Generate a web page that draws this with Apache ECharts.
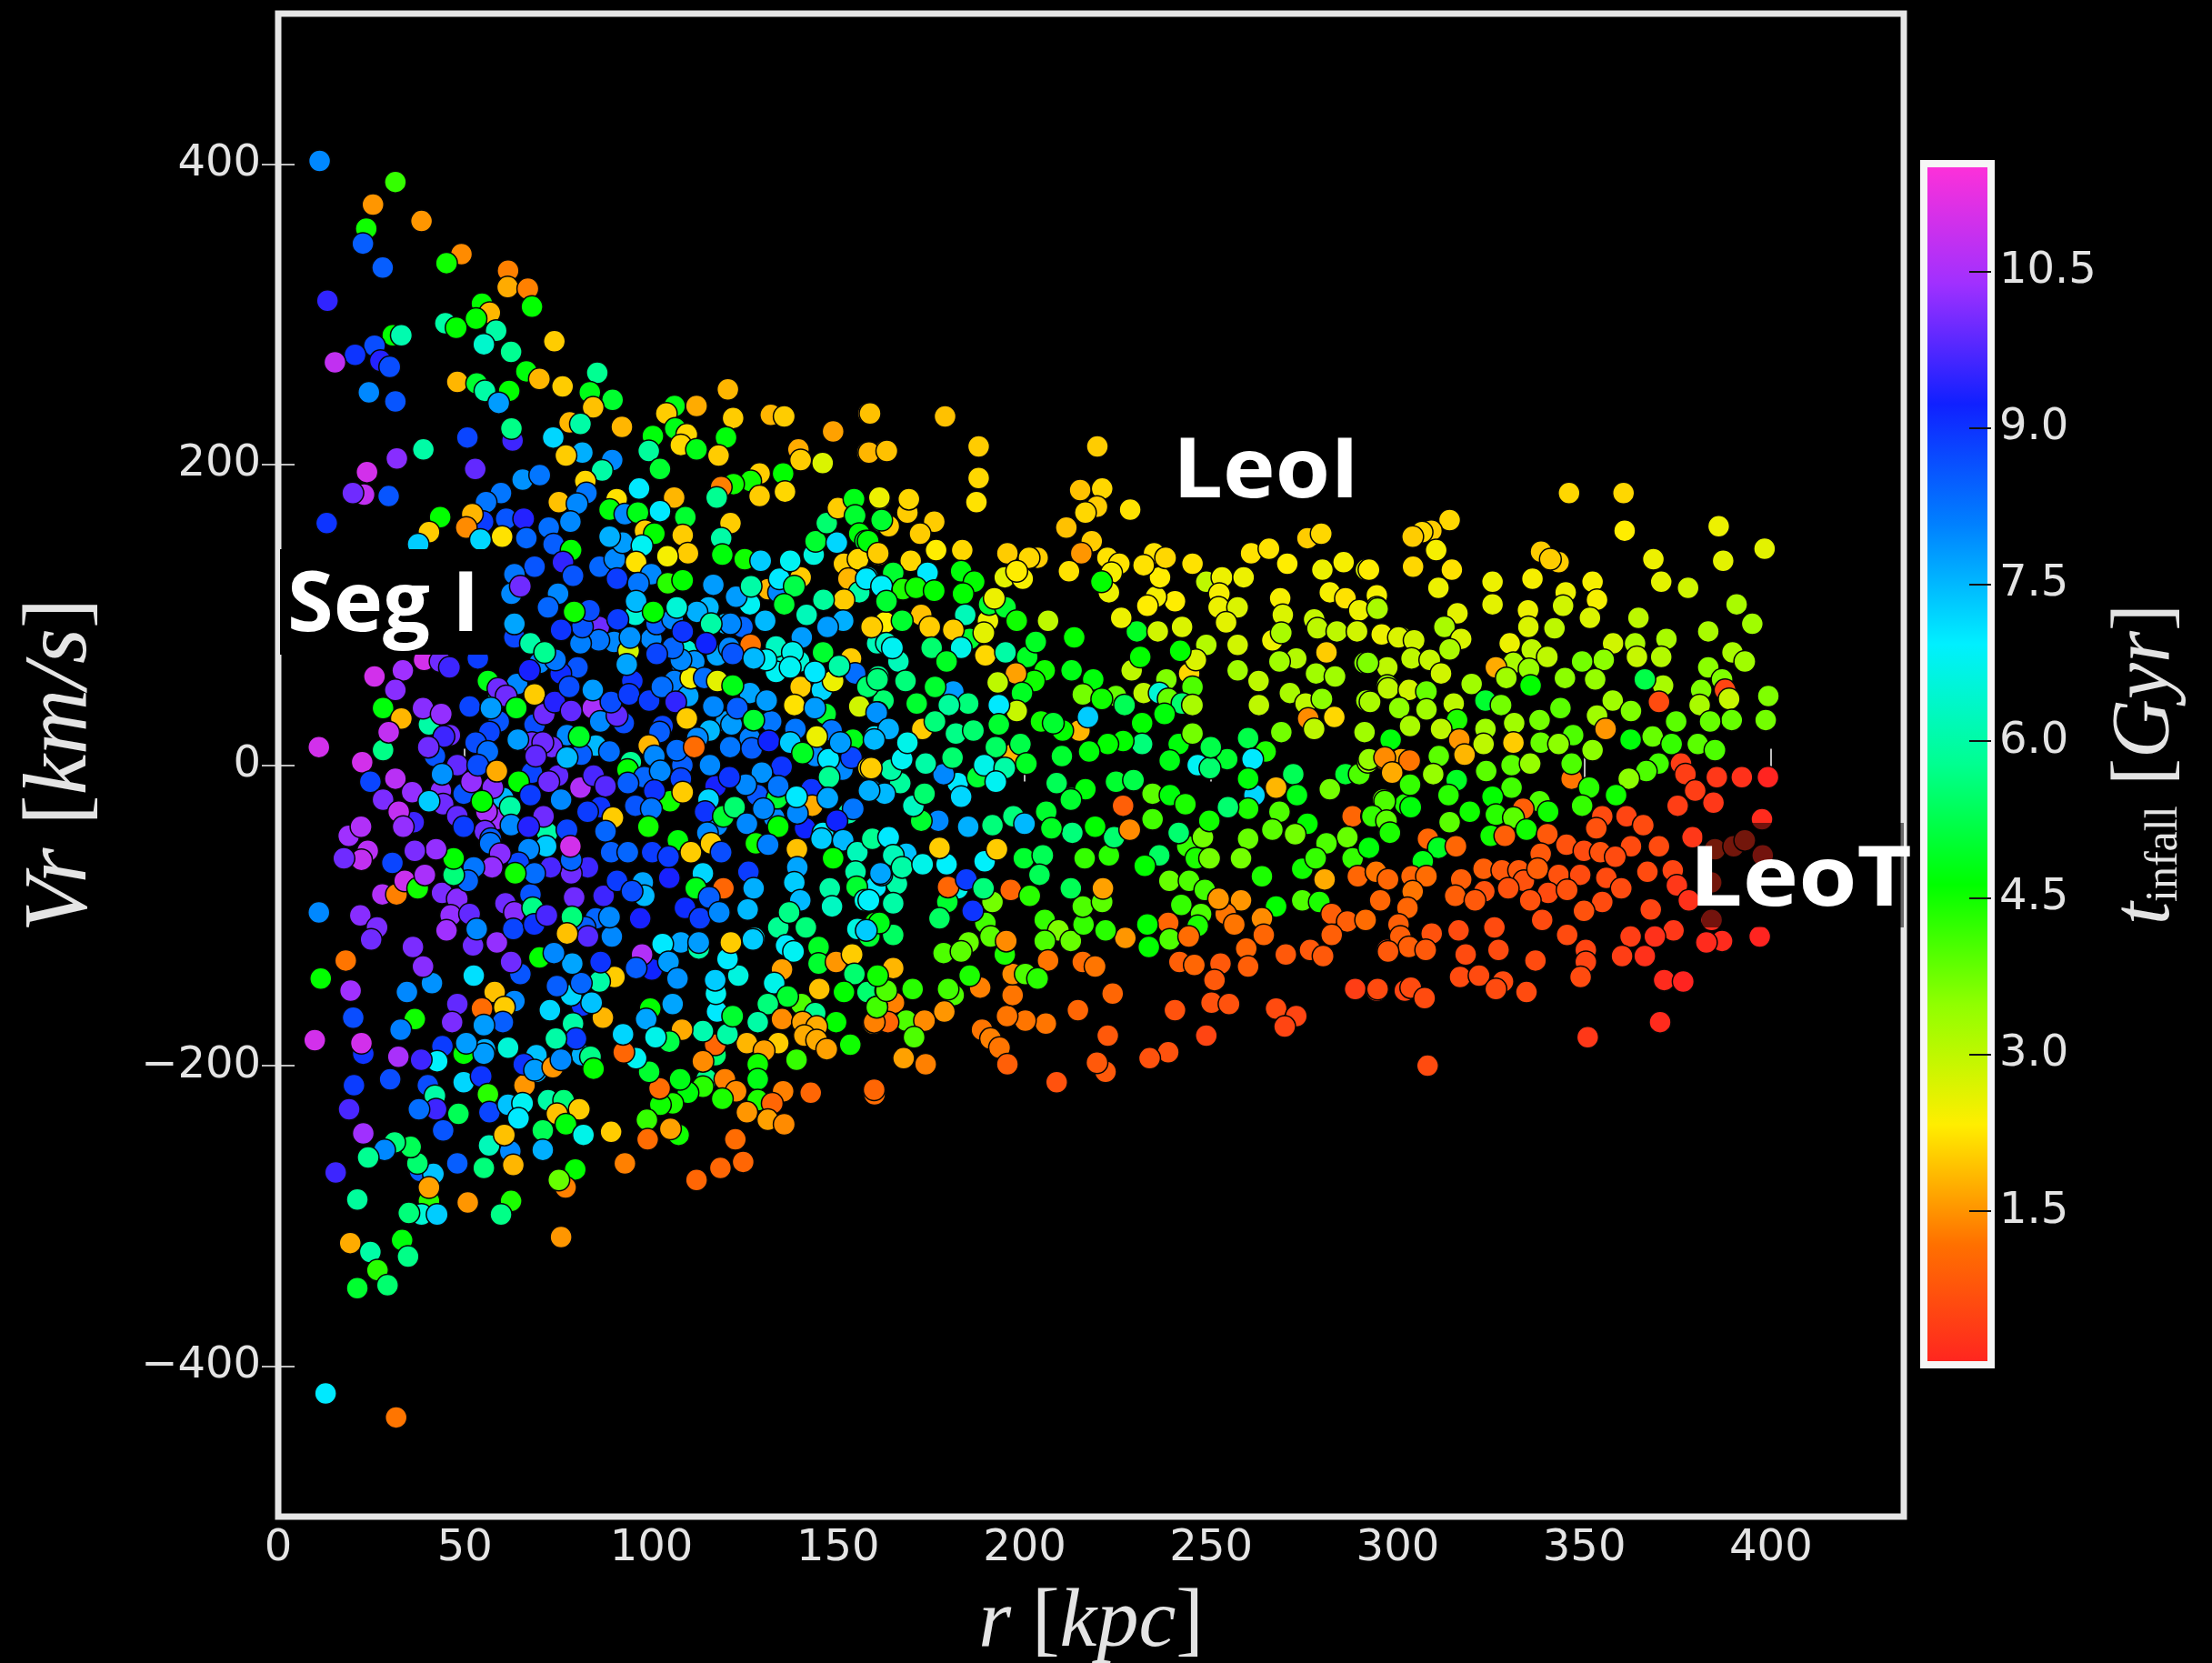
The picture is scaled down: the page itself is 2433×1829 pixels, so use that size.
<!DOCTYPE html>
<html><head><meta charset="utf-8">
<style>html,body{margin:0;padding:0;background:#000}#c{width:2433px;height:1829px}</style>
<script src="https://cdn.jsdelivr.net/npm/echarts@6/dist/echarts.min.js"></script>
</head><body><div id="c"></div>
<script>
// each point: [r kpc, Vr km/s, t_infall Gyr]
const partlyHidden=[[85.9,92,10],[95.7,100,6.5],[90,82,8],[100,84,8],[93.9,76,2.8],[109.5,76,6.5],[117.6,73,7.7],[120,94,7.5],[120.9,78,8],[108.3,66,8.1],[111.5,69,7.9],[106.2,56,8.1],[109.9,46,7.7],[94.9,56,9],[80.2,65,8.6],[75.7,61,9.1],[84.3,38,10.5],[86.3,29,8],[92.6,28,8.7],[90.8,33,9.9],[68.7,27,8.7],[71.3,34,10],[103,26,8.8],[102.2,22,8.5],[120,29,7.8],[115.6,23,7.5],[112.3,18,8],[108.3,0,8.5],[99.3,13,1.8],[85.1,13,7.5],[77.4,20,8],[81.2,7,8.5],[73.3,12,10],[68,15,10],[70.9,15,10],[59.1,29,8.6],[56.6,22,8.8],[59.1,45,6.4],[64,54,8],[70,68,8],[74.3,70,8.2],[40.4,27,6],[46,20,10],[44.4,19,9.6],[42,6,8.6],[48,0,9.9],[68,-5,8.8],[75,-7,9.9],[81,-15,10.6],[94.5,2,5.8],[93.6,-3,4.6],[98.1,-8,8.4],[105,-24,4.5],[95.7,-27,8.6],[107.9,-9,8.8],[117.2,-14,9.3],[117.6,-40,8],[60.3,-22,7.5],[86.3,-28,9],[58.3,-36,10.4],[72.1,-45,6],[55.8,-31,10.5],[36.3,-38,9.6],[43.6,-17,10.2],[49.7,-19,8.6],[55.4,-44,10],[57,-49,8.5],[126.4,107,6.8],[131.3,117,1.8],[134.1,115,8],[162.6,95,2.3],[185.3,84,5],[190.2,96,2.5],[124.4,92,8.4],[134.9,69,6.5],[139.6,69,6.5],[166.2,69,6.2],[160.5,81,6.2],[180.9,49,7.8],[162.2,43,5.5],[146.7,34,5],[126.4,48,7.7],[132.1,29,8.2],[121.5,27,7.8],[126.4,18,8.1],[154,17,4.8],[148.3,23,8.2],[143.9,6,8],[138.6,24,8.2],[151.2,-3,8],[153.6,5,8.8],[147.5,4,7],[182.1,-12,7],[187.4,-8,5],[196.7,7,1.8],[212.6,-22,5],[128.4,-20,8.6],[134.9,-1,9],[132.9,-35,8],[141.2,-42,9.2],[152.8,-32,6],[142.9,-16,9],[143.1,-27,1.7],[133.7,-22,5],[146,-45,7],[57,-68,10.7],[83,-68,9.6],[97.7,-78,7.7],[98.1,-87,7.5],[85.1,-102,8.4],[82.2,-108,8.5],[107.9,-118,7.7],[112.7,-122,6],[100.1,-136,9.2],[81.4,-160,9],[55.4,-189,7.6],[69.2,-193,7.4],[69.2,-204,7.6],[81.4,-193,7.6],[117.2,-193,5.5],[114.8,-209,5.7],[119.7,-209,1.3],[127.6,-115,7],[168.3,-59,7.4],[160.1,-81,7],[165.8,-79,6],[191.4,-91,3.7],[182.1,-82,6.7],[185,-118,3.8],[181,-153,4],[165,-158,1.3],[168.3,-170,4],[140.2,-159,4],[143.9,-165,5.8]];
const upperInner=[[11.1,402,8],[31.4,388,4.2],[25.4,373,1.5],[23.6,357,4.5],[22.7,347,8.5],[38.4,362,1.5],[49.1,340,1.4],[45.1,334,4.5],[28,331,8.5],[61.6,329,1.3],[61.5,318,1.7],[66.9,317,1.3],[68,305,4.6],[54.6,307,4.6],[56.7,301,1.8],[53,297,4.6],[13.2,309,9.5],[44.8,294,6],[47.7,291,4.6],[30.7,286,4.6],[33,286,6.1],[58.4,289,6],[55.1,280,6.4],[62.4,275,5.8],[74,282,2],[25.8,279,8.7],[20.6,273,9],[27.4,269,9.4],[29.9,265,8.7],[15.2,268,10.8],[48,255,1.8],[53.2,254,5],[55.4,249,6],[61.9,249,4.6],[59.1,241,7.8],[66.5,262,4.7],[70,257,1.8],[76.2,252,2],[85.5,261,5.8],[83.5,248,4.8],[89.6,243,5],[84.4,238,1.9],[24.3,248,8],[31.4,242,8.6],[92.1,225,1.8],[62.8,216,9.6],[62.5,224,5.7],[50.7,218,8.8],[73.7,218,7.2],[78.1,228,1.8],[81,227,6],[81.5,208,7.6],[77.1,206,2],[89.5,203,8],[86.8,196,6],[38.9,210,6],[31.8,204,10.2],[23.8,195,11],[52.8,197,9.9],[23,180,10.8],[20,181,10],[29.6,179,8.6],[13,161,9],
[106.2,239,4.8],[112.1,239,1.7],[120.5,250,1.8],[121.9,231,2],[104,234,2],[106.4,224,4.8],[132,233,1.8],[135.6,232,2],[148.7,222,1.6],[158.2,234,1.7],[109.5,220,2.1],[107.9,213,2.1],[112.1,210,4.8],[120,218,4.7],[118,206,2],[100.4,219,4.7],[99.3,209,5.9],[102.3,197,5],[139.4,210,1.7],[145.9,201,2.7],[140,203,2],[157.9,208,1.8],[162.6,209,2],[135.3,194,4.6],[135.8,182,2.1],[129,194,2],[126.6,189,4.5],[122,187,4.5],[129,179,2],[118.7,185,1.3],[117.5,178,5.8],[96.7,184,7],[106.1,178,1.8],[102.3,169,7],[90.7,177,2.2],[88.8,170,4.7],[92.9,167,8],[96.4,168,4.8],[109.1,165,5],[108.4,153,2],[121.2,161,2],[98.3,156,2],[100.8,154,4.6],[118.7,151,6],[109.8,141,2],[104.3,139,2.4],[119,140,4.7],[125,137,4.5],[129.3,136,7.3],
[65.5,190,7.9],[70.1,193,8.2],[82.3,189,2.1],[82.6,181,8.2],[75.2,175,1.9],[80.1,174,8],[59.7,181,8.2],[55.7,175,8.2],[61.1,164,8.6],[54.9,162,8.9],[65.8,164,9.4],[52,167,1.8],[50.4,158,1.4],[43.4,165,4.6],[40.4,155,2],[37.5,147,7.3],[60,152,2.2],[54.2,150,7.2],[66.5,151,8.4],[72.5,158,8.3],[78.3,162,8],[73.8,147,8.5],[78.5,143,4.6],[76.3,135,9.5],[68.7,132,8.6],[63.3,127,8.2],[79,126,8.6],[86.1,132,8.4],[90.2,137,8],[92.3,148,7.8],[88.8,152,7.6],[97.5,146,6.8],[95.9,135,2.2],[90.8,124,8.9],[100,127,8],[96.5,121,8.2],[104.4,121,4.3],[108.4,123,4.6],[116.6,120,7.8],[122.7,112,7.8],[126.7,119,6],[134.3,124,7],[140,125,2],[138.3,119,5.2],[137.2,136,6.8],[143.5,140,6.6],[144,149,5],[149.7,148,7.2],[147,161,5.5],[150,171,2],[154.3,177,4.8],[154.6,166,5],[161.2,177,2.3],[161.7,162,5],[155.7,154,4.7],[157.4,149,5],[151.6,134,2],[155.4,137,2.1],[160.9,140,1.9],[152.8,124,1.8],[157.9,125,7],[162,119,7],[155.7,115,6],[151.6,110,2],[146.1,110,5.9],[141.6,100,6.2],[135.6,107,5],[130.5,96,7.5],[121.2,94,8],[115.3,105,7.5],[112.2,102,7.6],[116,94,6],[151.4,96,7.6],[147.2,92,7.8],[158.8,92,2],[163,81,6.3],[153.5,71,2],[146,75,5],[140.3,85,7.8],[133.4,79,6.3],[126.6,80,1.2],[121.8,74,8.6],[114.7,81,9.2],[137.8,75,6.7],
[25.8,59,11],[33.4,63,10.4],[39.1,70,11],[43.4,69,10],[45.9,65,9.6],[53.5,71,8.9],[31.4,50,10.2],[28.1,38,4.7],[33,31,1.8],[38.8,38,10.2],[43.7,34,10.3],[51.3,39,8.8],[56.2,56,4.8],[58.9,51,10],[61.1,46,10],[57,38,7.8],[63.8,38,4.8],[67.3,63,9.3],[68.7,47,2],[74.1,42,9.4],[78.5,36,9.9],[78,52,8.7],[84.3,50,7.8],[89.2,42,8.7],[94,47,8.9],[99.4,43,8.9],[102.8,52,8.3],[106.5,42,9.5],[110.6,58,2.4],[114.2,58,8.3],[116.6,39,8],[123,38,8.5],[117.7,56,2.6],[121.8,53,4.8],[109.5,31,2],[127.4,30,5],[130.9,43,7.8],[140,52,2],[145.7,50,7.2],[138.3,40,2.2],[143.8,38,7.8],[148.7,56,2.5],[154.6,61,8.3],[160.8,59,5.8],[157.9,52,5.5],[155.7,39,2.8],[160.6,35,7.8],[133.4,62,6.8],[143.8,62,7],[150.3,66,6],[130.7,70,6.8],[137.2,65,6.8],[127.4,71,7.5],[107.9,70,8],[105.7,78,8.4],[101.4,74,8.8],[94.3,85,7.9],[93.4,67,7.7],[85.9,83,8.2],[81,81,8.1],[81.5,92,8.6],[75.8,90,9],[63.3,85,8.8],[63.3,94,7.7],[67.6,81,6],[71.4,75,5.8],[75,114,8],[72.3,105,8.4],[62.5,114,8],[64.9,119,10],[83.4,103,8.7],[79.3,102,4.5],[91,97,8.9],[101.4,94,8.5],[105.7,97,8],[108.4,89,9],[95.9,109,7.5],[100.5,102,4.6],[106.8,105,6.5]];
const lowerInner=[[10.9,12,11],[28.1,10,5.7],[22.5,2,11],[29.6,22,10.8],[40.2,12,10],[24.7,-11,8.8],[31.4,-9,10.7],[35.9,-18,10.3],[28.1,-23,10.1],[43.9,-6,7.9],[32.3,-31,10.8],[33.5,-41,10.3],[44.2,-26,10],[40.4,-24,7.3],[51.8,-11,10.3],[57.5,-15,10.2],[64.4,-11,4.6],[54.6,-24,4.6],[48,-34,9.9],[49.7,-41,8.9],[69,6,9.9],[64.2,17,7.8],[80.7,19,4.9],[77.4,5,7.5],[88.8,9,8.3],[52.9,15,8.7],[56.2,9,8.3],[53.5,0,8.7],[58.6,-4,1.7],[72.5,-11,10],[75.8,-23,8],[62.2,-28,6],[67.6,-20,8.9],[84.5,-7,9.7],[82.9,-31,8.9],[87.7,-14,9.8],[71.1,-34,10],[89.7,-35,2],[62.4,-40,8],[67.1,-41,9.4],[77.4,-43,8.8],[87.7,-44,8.4],[93.7,-12,8.5],[100.8,6,8],[106.8,10,8.3],[111.5,12,1.1],[102.4,-4,8],[115.7,0,8],[121.1,12,8.2],[126.9,11,8.5],[131.5,16,9.2],[137.2,15,7.3],[144.3,19,2.5],[150.6,15,7.8],[158.2,-2,2.2],[159.8,19,7],[140.5,8,4.9],[147.6,-8,5.8],[129.6,-5,7.9],[125.3,-13,8],[134,-14,8.2],[120.9,-8,9],[108.4,-18,2],[100.8,-17,9],[100,-29,8.2],[115.3,-23,7.2],[114.4,-31,9],[119.3,-34,5],[122.3,-28,5.5],[130,-29,8],[139.1,-32,8],[138.9,-21,7],[147.3,-22,7.7],[154.1,-29,8.2],[149.7,-37,9.2],[159,-17,7.6],[134,-41,4.6],[125.6,-39,8],[115,-45,8],[99.2,-41,4.5],[107.1,-50,4.7],[110.6,-58,2],[116,-52,2],[118.7,-58,8.7],[128,-52,4.5],[131.3,-53,8.1],[139,-56,1.9],[145.6,-49,7.3],[151.4,-50,7.5],[159.2,-49,6],[155.2,-58,6.2],[148.7,-62,4.6],[154.7,-71,6],[161.7,-73,7.7],[139.1,-68,7.7],[138.3,-78,7.3],[147.8,-82,6],[155,-81,5],[157.2,-90,6.6],[148.4,-94,6.3],[139.9,-90,7.5],[126,-71,8.9],[127.4,-82,7.6],[113.8,-72,7.2],[119.3,-82,1],[111.9,-82,4.8],[115.5,-88,8.5],[104.8,-75,9.3],[109,-95,9.1],[113,-102,8.9],[118.2,-98,8],[125.8,-96,7.5],[134,-108,5.8],[136.9,-98,5.7],[141.4,-108,5.6],[144.8,-121,4.9],[144.8,-132,5],[136.1,-120,7],[138.1,-124,6.8],[155.2,-109,6.6],[160,-105,4.5],[158.4,-114,5],[149.5,-131,1.5],[153.8,-126,2],[154.4,-139,5.5],[161.2,-140,4.9],[151.6,-151,4.6],[157.9,-151,5.5],[162.8,-150,4.5],[160.4,-161,4.7],[159.5,-172,1.6],[153.3,-186,4.5],[149.5,-171,4.6],[145,-149,1.9],[135,-136,1.6],[132.9,-145,6.7],[136.5,-154,5],[131.2,-159,5.6],[128.5,-171,6],[135,-169,1.4],[140.5,-171,1.6],[144.3,-174,1.7],[141,-180,1.7],[144.3,-183,1.7],[147,-189,1.6],[138.9,-196,4.2],[134,-185,2],[125.6,-185,1.8],[130.2,-190,1.6],[128.5,-199,4.5],[128.5,-209,4.8],[128.5,-223,4.4],[122.7,-217,1.4],[119,-222,4.4],[135.3,-217,1.3],[142.7,-218,1],[159.8,-219,1.1],[132.4,-225,1],[125.6,-231,1.5],[131.2,-236,1.6],[135.6,-239,1.4],
[117.1,-186,1],[113.8,-197,1.4],[113.8,-214,4.3],[109.8,-218,4.7],[107.7,-209,4.8],[105.7,-225,4.4],[102.4,-226,4.5],[102.2,-215,1.1],[99.4,-204,5],[95.9,-195,6.8],[92.6,-191,1],[113.8,-177,6.1],[120.4,-179,6],[117.6,-164,7],[121.8,-167,5],[117.3,-152,6.8],[117.1,-143,7.3],[123.3,-140,6.6],[120.4,-129,7],[127.2,-116,7.3],[121.3,-118,2],[112.7,-118,7.8],[103,-119,7],[104.6,-131,7.8],[97.5,-126,10.6],[95.9,-135,8.5],[107,-142,7.9],[105.7,-159,7.7],[108.2,-176,1.7],[99.7,-162,4.6],[98.6,-169,7.7],[104.8,-184,5.2],[101.1,-181,6.7],[92.4,-179,7.2],[87,-168,1.8],[84,-158,7.4],[78.5,-153,7.2],[90.1,-141,2],[86.1,-144,6],[81.2,-145,8.4],[74.7,-147,8.5],[86.4,-131,9],[78.8,-132,7.7],[70,-128,4.6],[73.9,-125,8],[64.9,-139,8.6],[62.4,-131,10],[52.4,-140,7.1],[63.3,-157,8],[58,-151,1.9],[60.6,-161,2],[54.6,-162,1.1],[48,-159,9.9],[46.6,-171,10.1],[60.2,-171,8.5],[55.1,-173,7.8],[72.8,-163,7.2],[79,-172,6],[79.8,-182,8.9],[74.4,-182,6],[61.6,-188,6.5],[44,-187,8.9],[49.7,-192,4.6],[55.1,-192,7.8],[50.4,-185,7.8],[42.6,-197,6.9],[38.3,-196,9.6],[32.2,-194,10.5],[22.8,-192,9],[22.3,-185,11],[9.8,-183,11],[36.6,-169,4.5],[32.8,-176,8.1],[20.1,-168,8.7],[19.4,-150,10.4],[18.1,-130,1.2],[11.4,-142,4.6],[34.5,-151,8],[41.2,-145,7.9],[38.8,-134,10.2],[36.1,-121,10.1],[22,-100,10.2],[10.9,-98,8],[26.5,-108,10.1],[24.9,-116,10],[27.9,-86,10.6],[31.7,-86,1.3],[33.9,-77,10.9],[37.4,-82,4.5],[39.3,-73,10.5],[43.9,-85,10.1],[48,-89,10.2],[46.2,-100,10.3],[45.1,-110,10.4],[51.3,-99,9.9],[52.2,-120,10],[53.2,-109,8],[58.6,-118,10.3],[60.9,-92,10],[63.3,-98,10.2],[63,-109,8.8],[67.6,-86,8.6],[68.2,-95,5.7],[68.6,-106,9],[72,-100,9.7],[79.3,-88,10],[78.7,-101,5.6],[83,-114,9.8],[77.4,-112,1.9],[89.4,-114,8],[88.8,-101,8],[87.2,-87,9.6],[90.8,-77,8.9],[94.8,-84,8.7],[97,-102,9.3],[78.5,-72,10],[73,-68,9.7],[78.5,-63,8.4],[78.3,-54,11],[71.8,-54,7.3],[67.1,-56,8],[64.4,-65,8.8],[68.7,-72,8.3],[63.5,-72,4.5],[56.8,-52,8.2],[59.5,-59,10.2],[57.3,-68,10.3],[52.4,-68,8.2],[50.8,-77,8.4],[47,-73,5.6],[47,-62,4.6],[42.3,-56,10.3],[36.6,-57,10.1],[30.6,-65,8.8],[24,-57,10.7],[22.3,-63,10.8],[18.9,-47,10.4],[22.2,-41,10.6],[17.6,-62,10],[89.2,-58,8.5],[93.7,-58,8.4],[100.2,-58,8.9],[104.6,-61,8.9],
[40.1,-213,8.7],[42,-220,6],[42.3,-229,9.6],[37.7,-229,8.3],[49.7,-211,7.2],[54.4,-207,9],[56.2,-219,4.3],[56.6,-231,8.8],[48.3,-232,5.3],[44.2,-243,8.6],[66,-213,1.5],[65.8,-199,9],[68.7,-203,7.8],[73.6,-201,1.5],[75.8,-196,8],[83.7,-194,5.7],[84.5,-202,4.6],[61.6,-226,7.4],[65.5,-225,6.8],[64.4,-235,7],[72.3,-223,6],[76.5,-223,5.6],[74.7,-232,1.9],[80.7,-229,2],[77.1,-239,4.7],[70.9,-243,5.3],[81.8,-246,6.7],[89.2,-244,2],[98.8,-236,4.2],[107.3,-246,4.5],[105.1,-242,1.6],[99,-249,1.1],[122.5,-249,1.1],[124.6,-264,1],[118.5,-268,1],[112.1,-276,1],[92.9,-265,1.3],[79.6,-269,4.6],[77,-281,1.3],[75.2,-276,3.8],[70.9,-256,7.6],[62.4,-290,4.4],[59.7,-299,5.7],[50.8,-291,1.5],[62.2,-257,8],[63,-266,1.8],[55.1,-268,5.6],[56.5,-253,6.2],[60.6,-246,1.9],[48,-265,8.5],[38,-270,8.5],[41.6,-272,7.4],[37.3,-265,5.5],[35.5,-254,5.3],[31.2,-251,5.6],[28.5,-256,8],[24.1,-261,5.8],[22.8,-245,10.4],[19,-229,9.7],[20.3,-213,8.9],[30,-209,8.7],[15.4,-271,9.6],[21.2,-289,5.9],[40.4,-290,4.3],[40.4,-281,1.6],[38.4,-299,6.5],[42.6,-299,7.3],[35,-298,5.6],[19.3,-318,1.7],[24.7,-324,6],[33.2,-316,4.7],[34.8,-327,5.7],[26.6,-336,4.3],[29.3,-346,5.5],[21.2,-348,5],[75.8,-314,1.5],[12.7,-418,7],[31.6,-434,1.2]];
const middleZone=[[178.7,232,1.9],[158.6,234,1.9],[158.3,208,1.8],[163.1,209,1.9],[187.7,212,2],[187.7,191,2.1],[187.1,175,2.2],[219.5,212,2],[214.9,183,1.9],[220.8,184,2.1],[219.4,172,2],[216.3,168,2.1],[228.3,170,2.2],[211.2,158,1.9],[218,149,2],[215.2,141,1.5],[211.9,129,2.2],[222.2,138,2.2],[225.4,134,2.2],[223.3,128,2.4],[222.6,115,2.5],[220.6,122,4.6],[195.4,141,2],[203.5,138,2],[201.2,138,2.1],[194.7,125,2.6],[199.5,124,2.4],[197.9,129,2.3],[183.3,143,2.1],[176.3,143,2.3],[175.8,162,2],[168.6,168,2],[172,154,2],[169,177,2.1],[161.1,178,2.5],[163.6,159,2],[161.7,163,5],[158.1,149,4.7],[160.8,141,2],[169.5,136,2.1],[174,128,7],[164.8,128,5],[157.6,124,7],[161.7,119,6.9],[167.4,117,4.4],[163,109,5],[170.9,118,4.5],[175.8,116,4.6],[183,129,4.7],[186.5,122,4.6],[183.5,114,4.6],[172.3,100,1.9],[174.6,92,2],[167.2,96,5],[159,92,2],[184.1,100,6.2],[190.5,107,5],[194.9,105,5],[197.9,96,4.5],[206.3,96,3],[191.9,111,2.5],[189.1,88,2.6],[180.9,90,2],[183,78,6.7],[164.6,78,6.8],[175.1,78,5.5],[179.1,69,4.9],[189.5,73,2.1],[194.9,75,6],[200.7,72,4.9],[203,82,4.9],[205.4,63,4.5],[202.6,56,4.5],[197.7,61,1.6],[192.8,55,3],[199.3,48,4.9],[197.9,36,2.9],[193.1,40,7],[184.9,41,5.6],[179.7,40,5.9],[176,52,5],[168.1,56,5.6],[160.6,57,5.6],[171.1,41,5],[160.4,35,7.9],[163.6,24,7.6],[172.6,24,2],[176,29,5.6],[181.6,21,5.7],[186.3,23,5.5],[193.1,27,5],[192.3,12,5.4],[198.9,14,5.2],[200.5,1,4.9],[210,6,5],[213.3,85,4.6],[212.6,63,4.8],[218.4,57,4.7],[215.6,47,3.7],[224.5,46,3.8],[220.7,44,4.5],[226.8,40,5.3],[238,57,3.6],[231.9,48,3],[236.1,48,6.5],[238.5,44,3.8],[244.1,61,2.1],[245,52,4],[242.2,41,5.5],[245,40,3.2],[237.5,34,4.7],[257.1,63,3.3],[262.7,56,3],[262.8,40,3],[257.1,80,2.8],[248.7,80,3.1],[245.9,70,2.7],[228.7,63,3],[231,72,4.6],[230.1,89,4.9],[235.7,89,2.8],[242.2,92,2.7],[241.7,76,4.6],[225.9,98,2.5],[240.3,109,2.3],[235.2,112,2.4],[232.9,106,2.3],[236.3,125,2.3],[234.7,141,2.2],[237.8,138,2.1],[231.9,133,2.2],[245,134,2.2],[248.7,122,3],[252.9,125,2.5],[258.7,125,2.5],[252.2,114,2.4],[252,105,2.5],[257.1,105,2.7],[254,95,2.6],[260.7,141,2.2],[265.5,144,2.2],[270.4,134,2.3],[275.8,151,2],[279.5,154,2.1],[285.5,135,2.4],[279.8,130,2.5],[291.5,130,2.7],[281.8,115,2.4],[286,111,2.2],[294.4,113,2.4],[294.4,105,2.9],[289.7,103,2.5],[268.5,111,2.4],[269.2,100,2.7],[277.6,97,2.9],[278.5,91,3],[283.7,89,3],[289.1,89,2.8],[295.8,87,3],[300.9,85,3],[266.4,83,2.5],[268.8,88,3.2],[272.8,71,3.1],[268.3,69,3.3],[280.9,75,2],[278.1,61,3.3],[283.2,59,3.3],[291.1,68,3.6],[297.2,65,3],[271.1,48,3.2],[275.3,41,3],[279.7,44,3.5],[291.6,43,3.4],[297.2,53,3.4],[300.5,38,3.5],[276,31,1.4],[283,32,2.1],[277.6,24,3],[291.1,22,3.3],[268.8,22,3.7],[259.9,18,5.2],[264.6,9,4.4],[261.1,4,7],[254.3,4,5],[246.4,0,6.8],[249.7,-2,5.5],[249.9,12,5.2],[241.3,14,4.7],[238.9,3,4.8],[245,21,3.7],[231.5,28,4.6],[231.5,14,5.6],[226.4,16,4.6],[222.3,14,4.6],[217.3,9,4.7],[214.7,23,1.8],[210.2,23,4.6],[204.4,29,4.5],[207.7,28,5],[217,32,7.3],[286,-6,5],[289.7,-6,4],[292,2,3.4],[296.3,4,1.5],[300.9,4,1.7],[298.6,-5,1.9],[281.8,-16,3.7],[272,-6,5.3],[267.4,-15,1.8],[273,-20,4.8],[261.6,-20,7.2],[259.9,-9,4.7],[259.9,-29,4.4],[254.5,-28,5.5],[268.3,-31,4],[275.8,-39,4.6],[287.9,-34,1],[293,-34,4],[296.1,-23,3.8],[302,-26,4.4],[297.7,-45,4],[266.4,-43,3.9],[272.5,-46,3.7],[259.9,-49,3.8],[286.5,-48,3.8],[280.9,-52,4],[258,-62,3.7],[287.9,-62,4.2],[274.4,-69,4.5],[278,-62,4.2],[263.6,-74,4.4],[280.4,-76,1.7],[289.3,-74,1],[294.2,-71,1.2],[274.4,-90,4],[267.4,-94,4.6],[279,-91,4.4],[258,-90,1.5],[253.9,-99,1.2],[256.2,-106,1.2],[263.6,-102,1.4],[264.1,-113,1],[259.4,-122,1],[259.9,-134,0.9],[270,-126,0.8],[276.5,-123,0.8],[280,-127,0.8],[282.3,-99,0.9],[286.5,-104,0.9],[282.3,-113,0.9],[295.2,-90,0.8],[300.5,-114,0.5],[297.2,-123,0.6],
[243.6,-54,4.2],[247.8,-48,3.7],[249.5,-37,4.5],[241.3,-45,5.5],[234.3,-19,3.9],[239,-20,4.7],[243.1,-26,4.4],[234.3,-36,4.1],[236.1,-60,5.4],[232.2,-67,4.6],[245.9,-62,4.4],[249.6,-62,3.7],[238.8,-77,3.8],[244.1,-77,4],[248.3,-83,4.1],[242,-93,4.2],[252,-89,1.5],[247.3,-99,4],[246.4,-107,4.4],[238.5,-105,1],[232.9,-106,4.6],[233.3,-121,4.6],[238.9,-116,4],[227,-115,1.5],[244,-114,1.1],[241.5,-131,0.9],[245.5,-133,1],[252.5,-132,0.8],[250.9,-143,0.8],[250.1,-158,0.7],[254.8,-159,0.7],[240.3,-163,0.7],[223.6,-152,1],[214.3,-163,1],[222.3,-180,0.8],[248.7,-180,0.5],[238.5,-191,0.7],[233.5,-195,0.7],[221.7,-204,0.8],[219.4,-198,0.8],[208.6,-211,0.7],[267.4,-162,0.6],[272.8,-167,0.5],[269.7,-174,0.5],[288.6,-149,0.4],[294.4,-150,0.4],[301.9,-150,0.5],[205.7,-172,1.2],[200.2,-170,1.2],[195.3,-167,1.2],[196.8,-153,1.2],[196.8,-139,1.4],[188.6,-176,1.2],[190.9,-182,1.3],[193.3,-188,1.2],[195.4,-199,0.9],[178.5,-164,1.5],[173.2,-170,1.4],[170.4,-181,4],[167.6,-195,1.6],[173.5,-199,1.3],[163.4,-171,1],[159.7,-171,1.3],[159.7,-216,1],[160.4,-161,4.1],[163,-150,4],[170,-149,4.3],[164.8,-135,1.8],[160.6,-140,4.5],[179.5,-149,4.1],[188.1,-148,1.3],[185.3,-140,4.4],[178.3,-125,4],[183,-124,3.9],[194.7,-126,4.4],[189.5,-105,4.1],[190.9,-114,3.9],[195.1,-117,1.4],[186.1,-97,9],[179.3,-91,5],[177.2,-102,5.4],[179.5,-81,1],[184.4,-76,8.9],[189,-82,5.6],[196.3,-83,1],[201.4,-87,4.3],[205.4,-103,4.2],[209.1,-110,3.6],[212.4,-117,3.8],[205.4,-117,4],[206.3,-130,1.2],[215.6,-131,1.1],[218.9,-134,1.2],[200.2,-139,4],[203.5,-142,4.3],[221.7,-110,4.3],[215.8,-106,4.2],[215.6,-94,4],[220.8,-91,3.9],[212.4,-82,5.3],[221,-82,1.6],[222.6,-60,4.3],[216.1,-62,4.2],[224,-48,5.5],[228.2,-43,1.4],[218.9,-41,4.6],[226.4,-27,0.9],[212.8,-45,5.6],[216.3,-16,4.7],[205.8,-31,5],[207.2,-42,4.9],[208.6,-12,5.3],[212.4,-23,5],[224.5,-11,5],[229.2,-10,5.2],[197,-34,5.6],[191.4,-40,5.6],[200,-39,7.5],[184.9,-41,7.6],[176.9,-37,8],[172.3,-37,5],[170.2,-27,6.3],[183,-21,7.2],[178.3,-6,8],[173.5,1,6],[180.7,5,5.5],[189.2,0,6.7],[194.7,-2,6],[192.3,-11,6.8],[173.2,-19,5.5],[166.7,-12,5.9],[164.2,-3,6],[167.2,4,6.8],[162.5,-19,7.5],[158.3,-17,7.6],[168.6,15,6.7],[158.9,-2,2],[159.7,17,7.5],[159.2,-49,5.8],[163.6,-48,7],[164.8,-60,6.2],[167.2,-68,6],[161.4,-72,7.7],[172.7,-66,6.7],[179.1,-66,6.9],[177.2,-55,2],[189.3,-64,6.9],[192.6,-56,2],[199.8,-62,5],[204.9,-60,5.3],[204,-73,5.3],[164.8,-92,6],[158.3,-90,6.9],[164.8,-113,5.4],[161.1,-105,4.8],[157.6,-110,7.3]];
const outerZone=[[345.9,181,2.1],[360.5,181,2.1],[360.8,156,2.3],[386,159,2.5],[398.3,144,2.6],[387.2,136,2.6],[313.9,163,2.1],[309,156,2],[306.5,155,2.1],[304,152,2],[310.3,143,2.4],[304.1,132,2.1],[314.5,130,2.2],[292.3,130,2.3],[310.9,118,2.5],[325.4,122,2.5],[325.4,107,2.6],[336.1,124,2.4],[338.4,142,2],[343.1,135,2],[340.9,137,2],[345,115,2.5],[352.2,122,2.4],[353.4,110,2.4],[344.3,106,2.8],[368.5,137,2.5],[370.6,122,2.6],[377.8,118,2.8],[390.8,107,3.2],[395,94,3.3],[364.5,98,3],[351.5,98,2.7],[334.9,103,2.5],[335,92,2.7],[342,91,3],[316,101,2.6],[294.6,104,3.2],[312.5,92,3.2],[383.2,89,3.2],[372,84,3.2],[357.7,81,2.8],[363.6,81,3.2],[330,81,2.5],[295.7,87,2.5],[300.2,85,2.7],[304.4,83,2.8],[317,84,2.7],[313.9,77,3.2],[335.9,77,3],[340.1,72,3],[364.1,72,2.9],[370.6,72,3.1],[389.7,75,3.2],[393,69,3.3],[383.2,65,3.5],[355.2,70,3.5],[349.4,69,3.7],[303.7,71,3],[292,68,3.6],[308.6,70,2.9],[331,68,3.2],[326.3,65,1.7],[311.6,61,2.8],[329.1,58,3.3],[335.2,64,3.4],[297.4,51,3],[303,50,2.8],[319.8,54,3.3],[344.8,58,3.5],[352.9,57,3.4],[371.1,53,3.2],[366.2,57,5.2],[335.6,53,4.6],[386.9,57,3.6],[381.3,50,3.6],[307.7,49,3.8],[292.6,42,3.2],[315,41,3],[323.5,43,5],[327.7,40,3.7],[307.7,37,3.3],[300.4,38,3.5],[343.6,38,3.9],[357.6,43,3.3],[370,42,0.6],[387.7,50,0.5],[388.8,44,2.9],[380.9,40,3.2],[399.3,46,3.6],[398.6,30,3.7],[389.5,30,3.8],[383.7,29,3.8],[374.6,29,3.9],[362.5,36,3.6],[353.4,33,3.3],[338,30,3.7],[331.2,28,3.3],[315.9,30,4.4],[303.3,26,3.2],[311.6,24,3],[323.5,24,3.3],[355.7,24,1.5],[347,20,4],[298.1,17,4.7],[316.5,17,1.5],[323,14,3],[331,15,2],[362.4,17,4.7],[368.3,19,3.8],[338.3,15,3.8],[343.1,14,3.5],[373.4,14,4.2],[380.4,14,3.9],[385,10,4],[352.2,10,3.5],[311,6,3.9],[317.9,7,1.8],[303.2,3,1.2],[292.3,4,3.4],[296.5,5,1.4],[298.5,-5,1.7],[309.5,-6,3.4],[323.7,-4,3.9],[330.5,0,3.9],[335.5,1,3.4],[346.6,-9,1.2],[346.6,1,4],[369.9,1,4.1],[366.6,-4,4],[375.9,1,0.4],[377.1,-6,0.4],[385.5,-8,0.3],[392.2,-8,0.2],[399.2,-8,0],[361.9,-9,3.5],[351.3,-15,4.3],[358.5,-20,4.5],[303.3,-13,4.2],[315.8,-10,4.9],[330.5,-15,4.1],[313.6,-20,4.3],[325.4,-21,4.6],[296.5,-24,4],[303.5,-28,4.7],[349.4,-27,4.2],[338,-24,4],[340.3,-31,4.5],[379.7,-17,0.4],[384.6,-25,0.3],[375,-27,0.4],[397.6,-36,0.1],[354.8,-34,0.6],[361.3,-34,0.5],[365.8,-40,0.6],[353.2,-42,0.7],[333.6,-29,0.9],[293.2,-34,4.2],[297,-37,3.9],[297.9,-45,4.4],[319.3,-31,4.5],[326.3,-33,4.3],[313.9,-38,3.9],[331,-35,3.9],[324.9,-47,4.5],[328.7,-47,0.9],[334.5,-43,4.5],[340.1,-46,0.8],[308.1,-49,1],[310.9,-55,4.9],[315.6,-54,1],[292.3,-55,4.7],[379,-48,0.3],[370,-54,0.6],[362.5,-54,0.6],[345.2,-53,0.7],[349.9,-57,0.6],[354.3,-58,0.7],[338.3,-59,0.8],[358.3,-61,0.6],[385,-56,0.3],[390,-54,0.2],[393,-50,0.2],[397.8,-60,0.1],[306.7,-64,4.8],[294.2,-71,1.2],[303.7,-74,1],[307.7,-74,1.1],[317,-76,0.9],[323,-69,0.9],[327.9,-70,0.8],[332.4,-70,0.8],[333.8,-77,0.7],[337.5,-69,0.9],[343.1,-73,0.7],[348.9,-73,0.6],[355.9,-75,0.6],[366.9,-71,0.6],[373.7,-70,0.5],[374.8,-80,0.3],[384,-78,0.2],[359.9,-82,0.6],[340.3,-85,0.6],[329.6,-82,0.7],[323.2,-84,0.7],[345.4,-83,0.7],[297.4,-76,1],[304,-84,1.2],[315.4,-87,0.9],[320.7,-90,0.8],[295.3,-90,1],[335.5,-90,0.7],[354.8,-91,0.6],[378,-90,0.2],[349.9,-97,0.7],[367.8,-96,0.5],[302.6,-95,1],[291.4,-103,1.1],[338.7,-103,0.6],[300.2,-106,0.9],[325.9,-108,0.6],[316.3,-110,0.6],[309.1,-112,0.7],[300.7,-114,0.9],[345.4,-113,0.6],[362.4,-114,0.4],[373.9,-110,0.3],[368.9,-114,0.2],[384.1,-103,0.1],[397,-114,0],[386.9,-117,0.1],[382.7,-118,0.1],[327,-123,0.6],[318.2,-126,0.6],[303,-121,0.9],[307.5,-123,0.8],[297.4,-124,0.8],[336.9,-130,0.6],[350.4,-123,0.5],[350.4,-131,0.5],[360.1,-127,0.4],[366.2,-127,0.2],[349,-141,0.6],[316.7,-141,0.6],[321.8,-140,0.6],[328.2,-144,0.6],[326.3,-149,0.6],[334.5,-151,0.6],[294.6,-149,0.6],[303.5,-148,0.6],[307.2,-155,0.6],[371.4,-143,0.1],[376.5,-144,0],[370.3,-171,0.1],[350.9,-181,0.3],[308,-200,0.6]];
const xTicks=[0,50,100,150,200,250,300,350,400];
const yTicks=[-400,-200,0,200,400];
const colorTicks=[1.5,3,4.5,6,7.5,9,10.5];
const colorRamp=['#ff2420','#ff7000','#ffee00','#90ff00','#00ff00','#00ff90','#00f0ff','#0080ff','#1020ff','#a030ff','#ff30d8'];
const xLimits=[0,435.6], yLimits=[-500,500], tLimits=[0,11.55], colorbarLimits=[0.03,11.53];
const allPoints=[...partlyHidden,...upperInner,...lowerInner,...middleZone,...outerZone];

const chart=echarts.init(document.getElementById('c'),null,{renderer:'canvas'});
const tickFont={fontFamily:'DejaVu Sans',fontSize:48,color:'#e4e4e4'};
const serif='Liberation Serif';
const it=(s)=>({fontFamily:serif,fontStyle:'italic',fontSize:s,color:'#e4e4e4'});
const up=(s)=>({fontFamily:serif,fontSize:s,color:'#e4e4e4'});
const tickSty={show:true,inside:true,length:18,lineStyle:{color:'#bdbdbd',width:2}};
const nb='\u00a0';
chart.setOption({
  backgroundColor:'#000',animation:false,
  grid:[
    {left:306,top:15,width:1788,height:1653,outerBoundsMode:'none',show:true,backgroundColor:'transparent',borderColor:'#e6e6e6',borderWidth:7,z:3},
    {left:2116,top:180,width:74,height:1321,outerBoundsMode:'none',show:true,backgroundColor:'transparent',borderColor:'#f6f6f6',borderWidth:8,z:3}
  ],
  xAxis:[
    {type:'value',gridIndex:0,min:xLimits[0],max:xLimits[1],splitLine:{show:false},axisLine:{show:false},
     axisTick:{...tickSty,customValues:xTicks},axisLabel:{...tickFont,margin:12,customValues:xTicks},
     name:'{i|r}{n|'+nb+'[}{i|kpc}{n|]}',nameLocation:'middle',nameGap:72,nameTextStyle:{rich:{i:it(92),n:up(92)}}},
    {type:'value',gridIndex:0,position:'top',min:xLimits[0],max:xLimits[1],splitLine:{show:false},axisLine:{show:false},
     axisTick:{...tickSty,customValues:xTicks},axisLabel:{show:false}},
    {type:'category',gridIndex:1,data:['t'],show:false}
  ],
  yAxis:[
    {type:'value',gridIndex:0,min:yLimits[0],max:yLimits[1],splitLine:{show:false},axisLine:{show:false},
     axisTick:{...tickSty,customValues:yTicks},
     axisLabel:{...tickFont,margin:19,customValues:yTicks,formatter:(v)=>String(v).replace('-','\u2212')},
     name:'{i|Vr}{n|'+nb+'[}{i|km/s}{n|]}',nameLocation:'middle',nameRotate:90,nameGap:188,nameTextStyle:{rich:{i:it(100),n:up(100)}}},
    {type:'value',gridIndex:0,position:'right',min:yLimits[0],max:yLimits[1],splitLine:{show:false},axisLine:{show:false},
     axisTick:{...tickSty,customValues:yTicks},axisLabel:{show:false}},
    {type:'value',gridIndex:1,position:'right',min:colorbarLimits[0],max:colorbarLimits[1],z:6,splitLine:{show:false},axisLine:{show:false},
     axisTick:{show:true,inside:true,length:24,lineStyle:{color:'#111',width:2},customValues:colorTicks},
     axisLabel:{...tickFont,margin:9,customValues:colorTicks,formatter:(v)=>Number(v).toFixed(1)},
     name:'{t|t}{s|infall}{n|'+nb+'[}{i|Gyr}{n|]}',nameLocation:'middle',nameRotate:90,nameGap:126,
     nameTextStyle:{rich:{t:it(90),i:it(90),n:up(90),s:{...up(50),verticalAlign:'bottom',lineHeight:74}}}}
  ],
  visualMap:{show:false,seriesIndex:0,dimension:2,min:tLimits[0],max:tLimits[1],inRange:{color:colorRamp}},
  series:[
    {type:'scatter',xAxisIndex:0,yAxisIndex:0,data:allPoints,symbolSize:24,z:2,silent:true,
     itemStyle:{opacity:1,borderColor:'#050505',borderWidth:1.5}},
    {type:'bar',xAxisIndex:2,yAxisIndex:2,data:[colorbarLimits[1]],barWidth:'100%',silent:true,z:2,
     itemStyle:{color:{type:'linear',x:0,y:1,x2:0,y2:0,colorStops:colorRamp.map((c,i)=>({offset:i/(colorRamp.length-1),color:c}))}}}
  ],
  graphic:[
    {type:'rect',z:50,silent:true,shape:{x:308,y:604,width:236,height:116},style:{fill:'#000'}},
    {type:'text',z:51,silent:true,x:316,y:668,style:{text:'Seg I',font:'bold 92px "Open Sans"',fill:'#fff',textVerticalAlign:'middle'}},
    {type:'rect',z:50,silent:true,shape:{x:1281,y:470,width:214,height:103},style:{fill:'#000'}},
    {type:'text',z:51,silent:true,x:1290,y:521,scaleX:1.06,style:{text:'LeoI',font:'bold 92px "Open Sans"',fill:'#fff',textVerticalAlign:'middle'}},
    {type:'rect',z:50,silent:true,shape:{x:1872,y:905,width:222,height:115},style:{fill:'rgba(0,0,0,0.55)'}},
    {type:'text',z:51,silent:true,x:1858,y:970,scaleX:1.13,style:{text:'LeoT',font:'bold 92px "Open Sans"',fill:'#fff',textVerticalAlign:'middle'}}
  ]
});
</script></body></html>
